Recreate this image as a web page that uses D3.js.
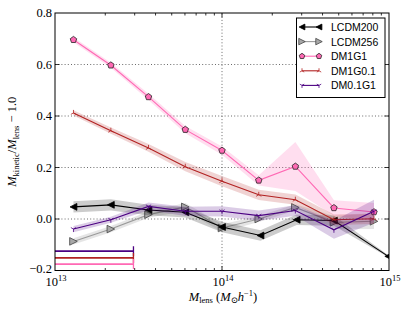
<style>body { margin: 0; }</style>
<svg class="chart"></svg>

<script src="https://d3js.org/d3.v7.min.js"></script>
<script>
// mass bins (M_sun/h) and ratio M_kinetic/M_lens - 1
mass = [1.29e13, 2.16e13, 3.63e13, 6.03e13, 1.0e14, 1.66e14, 2.75e14, 4.68e14, 8.13e14]
massLCDM200 = [1.29e13, 2.16e13, 3.63e13, 6.03e13, 1.0e14, 1.70e14, 2.80e14, 4.68e14, 9.9e14]

lcdm200 = [0.047, 0.055, 0.035, 0.026, -0.031, -0.064, -0.003, -0.006, -0.145]
lcdm200Err = [0.022, 0.022, 0.02, 0.02, 0.02, 0.02, 0.02, 0.02, 0.004]
lcdm256 = [-0.087, -0.039, 0.017, 0.047, -0.035, 0.0, 0.045, -0.013, -0.009]
lcdm256Err = [0.012, 0.012, 0.012, 0.015, 0.015, 0.012, 0.012, 0.025, 0.03]
dm1g1 = [0.696, 0.597, 0.474, 0.347, 0.266, 0.150, 0.204, 0.043, 0.027]
dm1g1Err = [0.01, 0.01, 0.012, 0.014, 0.016, 0.02, 0.095, 0.03, 0.035]
dm1g01 = [0.412, 0.343, 0.276, 0.203, 0.147, 0.094, 0.075, -0.003, 0.001]
dm1g01Err = [0.01, 0.012, 0.015, 0.018, 0.02, 0.02, 0.02, 0.02, 0.02]
dm01g1 = [-0.039, -0.003, 0.049, 0.030, 0.030, 0.013, 0.033, -0.042, 0.030]
dm01g1Err = [0.012, 0.012, 0.015, 0.018, 0.02, 0.02, 0.02, 0.035, 0.045]

// resolution limit bars at the bottom left
limitLevels = [-0.125, -0.151, -0.175]
limitMass = 2.95e13

yTicks = [-0.2, 0.0, 0.2, 0.4, 0.6, 0.8]
xTicks = [1e13, 1e14, 1e15]
xTickExp = ["13", "14", "15"]

width = 407
height = 313
margin = ({top: 13, right: 18, bottom: 42.5, left: 55})

x = d3.scaleLog().domain([1e13, 1e15]).range([margin.left, width - margin.right])
y = d3.scaleLinear().domain([-0.2, 0.8]).range([height - margin.bottom, margin.top])

const series = [
  {name: "LCDM256", m: mass, v: lcdm256, e: lcdm256Err, color: "#9a9a9a", band: "#888", bandOp: 0.22, marker: "tright", mfill: "#a8a8a8", mstroke: "#444", ms: 3.8},
  {name: "LCDM200", m: massLCDM200, v: lcdm200, e: lcdm200Err, color: "#000", band: "#000", bandOp: 0.2, marker: "tleft", mfill: "#000", mstroke: "#000", ms: 3.4},
  {name: "DM1G1", m: mass, v: dm1g1, e: dm1g1Err, color: "#ff69b4", band: "#ff69b4", bandOp: 0.22, marker: "pent", mfill: "#ff69b4", mstroke: "#222", ms: 3.4},
  {name: "DM1G0.1", m: mass, v: dm1g01, e: dm1g01Err, color: "#b22222", band: "#b22222", bandOp: 0.2, marker: "triup", mfill: "none", mstroke: "#b22222", ms: 3},
  {name: "DM0.1G1", m: mass, v: dm01g1, e: dm01g1Err, color: "#4b0082", band: "#4b0082", bandOp: 0.2, marker: "tridown", mfill: "none", mstroke: "#4b0082", ms: 3}
]
const legendOrder = ["LCDM200", "LCDM256", "DM1G1", "DM1G0.1", "DM0.1G1"]

function markerPath(type, s) {
  const poly = pts => "M" + pts.map(p => p.join(",")).join("L") + "Z"
  if (type === "tleft") return poly([[-s, 0], [s, -s], [s, s]])
  if (type === "tright") return poly([[s, 0], [-s, -s], [-s, s]])
  if (type === "pent") {
    const pts = d3.range(5).map(i => {
      const a = -Math.PI / 2 + i * 2 * Math.PI / 5
      return [s * Math.cos(a), s * Math.sin(a)]
    })
    return poly(pts)
  }
  if (type === "triup") return `M0,0L0,${-s}M0,0L${-s * 0.87},${s * 0.5}M0,0L${s * 0.87},${s * 0.5}`
  if (type === "tridown") return `M0,0L0,${s}M0,0L${-s * 0.87},${-s * 0.5}M0,0L${s * 0.87},${-s * 0.5}`
}

const svg = d3.select("svg")
    .attr("width", width)
    .attr("height", height)
    .attr("viewBox", [0, 0, width, height])
    .style("background", "#fff")
    .style("display", "block")

svg.append("defs").append("clipPath").attr("id", "clip")
  .append("rect")
    .attr("x", margin.left).attr("y", margin.top)
    .attr("width", x.range()[1] - margin.left)
    .attr("height", y.range()[0] - margin.top)

// dotted grid
const grid = svg.append("g").attr("stroke", "#444").attr("stroke-width", 0.8).attr("stroke-dasharray", "1,2.2")
grid.selectAll("line.gy").data(yTicks.slice(1, -1)).join("line")
    .attr("x1", x.range()[0]).attr("x2", x.range()[1])
    .attr("y1", d => y(d)).attr("y2", d => y(d))
grid.append("line")
    .attr("x1", x(1e14)).attr("x2", x(1e14))
    .attr("y1", y.range()[0]).attr("y2", y.range()[1])

const plot = svg.append("g").attr("clip-path", "url(#clip)")

series.forEach(s => {
  const pts = s.m.map((m, i) => ({m, v: s.v[i], e: s.e[i]}))
  plot.append("path")
      .datum(pts)
      .attr("fill", s.band)
      .attr("fill-opacity", s.bandOp)
      .attr("d", d3.area().x(d => x(d.m)).y0(d => y(d.v - d.e)).y1(d => y(d.v + d.e)))
  plot.append("path")
      .datum(pts)
      .attr("fill", "none")
      .attr("stroke", s.color)
      .attr("stroke-width", 1.1)
      .attr("d", d3.line().x(d => x(d.m)).y(d => y(d.v)))
  plot.append("g").selectAll("path").data(pts).join("path")
      .attr("transform", d => `translate(${x(d.m)},${y(d.v)})`)
      .attr("d", markerPath(s.marker, s.ms))
      .attr("fill", s.mfill)
      .attr("stroke", s.mstroke)
      .attr("stroke-width", 0.8)
})

// limit bars
const limitColors = ["#4b0082", "#b22222", "#ff69b4"]
limitLevels.forEach((lv, i) => {
  plot.append("line")
      .attr("x1", x(1e13) - 5).attr("x2", x(limitMass))
      .attr("y1", y(lv)).attr("y2", y(lv))
      .attr("stroke", limitColors[i]).attr("stroke-width", 1.8)
  plot.append("line")
      .attr("x1", x(limitMass)).attr("x2", x(limitMass))
      .attr("y1", y(lv) - 5).attr("y2", y(lv) + 5)
      .attr("stroke", limitColors[i]).attr("stroke-width", 1.3)
})

// frame and inward ticks
const x0 = x.range()[0], x1 = x.range()[1], y0 = y.range()[0], y1 = y.range()[1]
svg.append("rect")
    .attr("x", x0).attr("y", y1).attr("width", x1 - x0).attr("height", y0 - y1)
    .attr("fill", "none").attr("stroke", "#000").attr("stroke-width", 1)

const ticks = svg.append("g").attr("stroke", "#000").attr("stroke-width", 0.8)
const allX = x.ticks().filter(t => t > 1e13 && t < 1e15)
allX.forEach(t => {
  const major = xTicks.includes(t)
  const len = major ? 4.5 : 2.5
  ticks.append("line").attr("x1", x(t)).attr("x2", x(t)).attr("y1", y0).attr("y2", y0 - len)
  ticks.append("line").attr("x1", x(t)).attr("x2", x(t)).attr("y1", y1).attr("y2", y1 + len)
})
yTicks.slice(1, -1).forEach(t => {
  ticks.append("line").attr("x1", x0).attr("x2", x0 + 4.5).attr("y1", y(t)).attr("y2", y(t))
  ticks.append("line").attr("x1", x1).attr("x2", x1 - 4.5).attr("y1", y(t)).attr("y2", y(t))
})

const serif = "'Liberation Serif', 'DejaVu Serif', serif"

// y tick labels
svg.append("g").selectAll("text").data(yTicks).join("text")
    .attr("x", x0 - 3)
    .attr("y", d => y(d) + (d === -0.2 ? 2 : 4))
    .attr("text-anchor", "end")
    .attr("font-family", serif)
    .attr("font-size", 12.5)
    .text(d => (d < 0 ? "\u2212" : "") + Math.abs(d).toFixed(1))

// x tick labels
xTicks.forEach((t, i) => {
  const tx = svg.append("text")
      .attr("x", x(t) + 1)
      .attr("y", y0 + 15)
      .attr("text-anchor", "middle")
      .attr("font-family", serif)
      .attr("font-size", 12.5)
  tx.append("tspan").text("10")
  tx.append("tspan").attr("dy", -5).attr("font-size", 8.5).text(xTickExp[i])
})

// x label
const xl = svg.append("text")
    .attr("x", x(1e14) + 1)
    .attr("y", y0 + 30)
    .attr("text-anchor", "middle")
    .attr("font-family", serif)
    .attr("font-size", 12.5)
xl.append("tspan").attr("font-style", "italic").text("M")
xl.append("tspan").attr("dy", 2.5).attr("font-size", 8.5).text("lens")
xl.append("tspan").attr("dy", -2.5).text(" (")
xl.append("tspan").attr("font-style", "italic").text("M")
xl.append("tspan").attr("dy", 2.5).attr("font-size", 8.5).text("\u2299")
xl.append("tspan").attr("dy", -2.5).attr("font-style", "italic").text("h")
xl.append("tspan").attr("dy", -5).attr("font-size", 8.5).text("\u22121")
xl.append("tspan").attr("dy", 5).text(")")

// y label
const yl = svg.append("text")
    .attr("transform", `translate(16,${(y0 + y1) / 2}) rotate(-90)`)
    .attr("text-anchor", "middle")
    .attr("font-family", serif)
    .attr("font-size", 12.5)
yl.append("tspan").attr("font-style", "italic").text("M")
yl.append("tspan").attr("dy", 2.5).attr("font-size", 8.5).text("kinetic")
yl.append("tspan").attr("dy", -2.5).text("/")
yl.append("tspan").attr("font-style", "italic").text("M")
yl.append("tspan").attr("dy", 2.5).attr("font-size", 8.5).text("lens")
yl.append("tspan").attr("dy", -2.5).text(" \u2212 1.0")

// legend
const lg = svg.append("g")
lg.append("rect")
    .attr("x", 296.5).attr("y", 18).attr("width", 88.5).attr("height", 79.5)
    .attr("fill", "#fff").attr("stroke", "#000").attr("stroke-width", 1)
legendOrder.forEach((name, i) => {
  const s = series.find(d => d.name === name)
  const ly = 27 + i * 14.6
  lg.append("line").attr("x1", 302).attr("x2", 319).attr("y1", ly).attr("y2", ly)
      .attr("stroke", s.color).attr("stroke-width", 1.1)
  ;[302, 319].forEach(mx => {
    lg.append("path")
        .attr("transform", `translate(${mx},${ly})`)
        .attr("d", markerPath(s.marker, s.ms * 0.85))
        .attr("fill", s.mfill).attr("stroke", s.mstroke).attr("stroke-width", 0.8)
  })
  lg.append("text")
      .attr("x", 331).attr("y", ly + 4)
      .attr("font-family", "'Liberation Sans', Arial, sans-serif")
      .attr("font-size", 10.5)
      .text(name)
})
</script>
